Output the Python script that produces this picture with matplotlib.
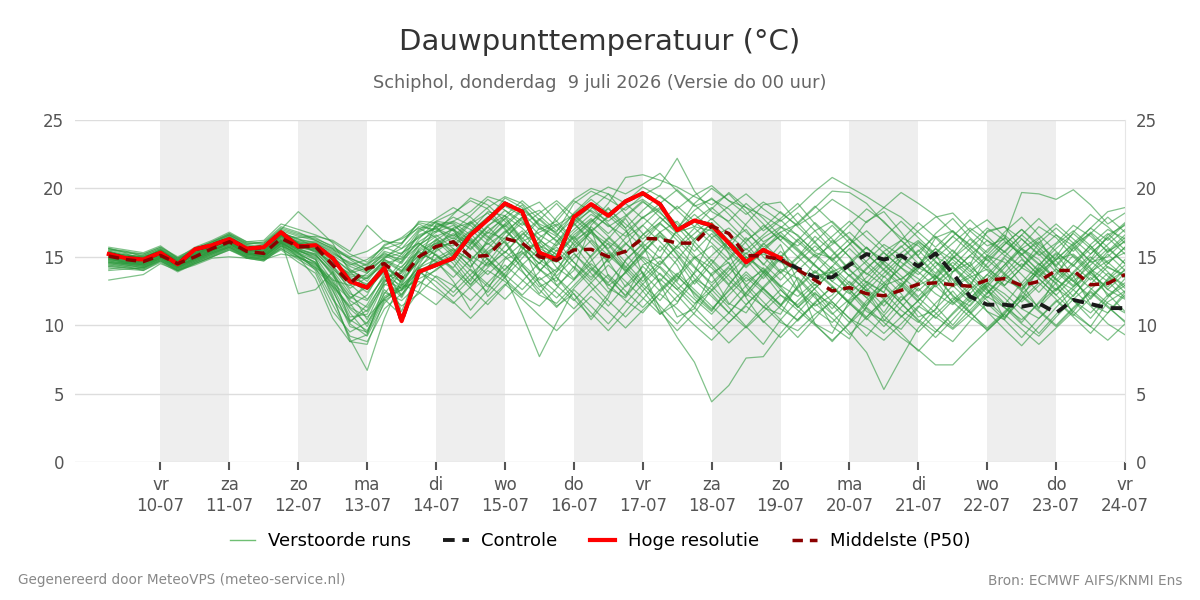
import numpy as np
import pandas as pd
import matplotlib
matplotlib.use('Agg')
import matplotlib.pyplot as plt
from matplotlib.lines import Line2D
from datetime import datetime, timedelta

# 6-hourly steps, 9 juli 06 uur t/m 24 juli 00 uur
times = pd.date_range('2026-07-09 06:00', periods=60, freq='6h')

day_ticks = pd.date_range('2026-07-10', '2026-07-24', freq='D')
day_names = ['vr', 'za', 'zo', 'ma', 'di', 'wo', 'do', 'vr', 'za', 'zo', 'ma', 'di', 'wo', 'do', 'vr']
shaded_days = ['2026-07-10', '2026-07-12', '2026-07-14', '2026-07-16', '2026-07-18', '2026-07-20', '2026-07-22']

hres = [15.2, 14.9, 14.8, 15.3, 14.45, 15.55, 15.85, 16.3, 15.6, 15.7,
        16.8, 15.75, 15.85, 14.9, 13.2, 12.75, 14.2, 10.3, 13.9, 14.4,
        14.9, 16.6, 17.7, 18.9, 18.3, 15.3, 14.8, 17.9, 18.85, 18.0,
        19.05, 19.65, 18.85, 16.95, 17.65, 17.3, 16.0, 14.6, 15.5, 14.9]

p50 = [15.05, 14.8, 14.65, 15.1, 14.5, 15.0, 15.6, 16.1, 15.4, 15.25,
       16.35, 15.75, 15.75, 14.4, 13.05, 14.15, 14.5, 13.45, 15.0, 15.75,
       16.1, 15.0, 15.1, 16.35, 16.0, 15.0, 14.75, 15.5, 15.55, 15.0,
       15.4, 16.35, 16.3, 16.0, 16.0, 17.25, 16.7, 15.1, 15.05, 14.8,
       14.05, 13.3, 12.5, 12.75, 12.3, 12.15, 12.55, 13.0, 13.1, 12.95,
       12.85, 13.3, 13.4, 12.9, 13.2, 14.0, 14.0, 12.95, 13.05, 13.7]

controle = [15.2, 14.9, 14.8, 15.3, 14.45, 15.55, 15.85, 16.3, 15.6, 15.7,
            16.8, 15.75, 15.85, 14.9, 13.2, 12.75, 14.2, 10.3, 13.9, 14.4,
            14.9, 16.6, 17.7, 18.9, 18.3, 15.3, 14.8, 17.9, 18.85, 18.0,
            19.05, 19.65, 18.85, 16.95, 17.65, 17.3, 16.0, 14.6, 15.5, 14.8,
            14.15, 13.5, 13.5, 14.4, 15.2, 14.8, 15.1, 14.3, 15.25, 13.8,
            12.1, 11.5, 11.5, 11.35, 11.6, 10.9, 11.85, 11.55, 11.25, 11.25]

members = [
    [15.3,15.0,14.9,15.4,14.6,15.6,15.9,16.4,15.7,15.8, 16.9,16.0,15.9,14.8,13.5,13.0,14.3,11.0,14.2,14.8, 15.3,16.8,17.9,18.7,18.0,15.6,15.0,17.5,18.4,17.6, 18.6,19.2,18.3,16.8,17.2,16.9,15.6,14.9,15.2,14.6, 14.0,13.6,13.9,14.5,13.8,12.9,13.4,14.2,13.6,12.8, 13.5,14.1,13.3,12.7,13.9,14.8,15.2,14.1,13.2,14.0],
    [14.6,14.4,14.3,14.9,14.2,14.8,15.3,15.9,15.2,15.0, 16.0,15.3,14.0,11.5,9.2,8.8,11.2,12.3,13.6,14.9, 15.6,14.2,16.3,17.4,16.2,14.1,13.2,15.8,16.9,15.5, 14.2,15.7,16.8,15.1,13.4,12.6,14.0,15.3,13.8,12.2, 11.5,12.7,13.9,12.4,11.0,10.3,11.8,12.9,13.6,12.1, 11.4,12.8,14.2,15.6,14.8,13.3,12.6,13.9,14.7,15.3],
    [15.6,15.3,15.1,15.6,14.8,15.4,16.0,16.6,15.9,16.1, 17.2,16.8,16.2,15.6,14.1,13.2,14.8,14.0,15.5,16.2, 17.1,17.5,16.4,17.8,18.8,17.2,16.5,18.2,19.4,20.1, 19.6,20.3,21.1,19.8,18.7,19.2,18.5,17.3,16.1,16.8, 17.4,18.6,19.8,19.7,18.9,17.5,16.4,15.8,14.6,13.9, 15.1,16.2,15.4,14.2,13.5,14.8,15.9,16.7,15.3,16.4],
    [14.1,14.3,14.0,14.7,14.0,14.6,15.1,15.6,15.0,14.8, 15.8,15.2,14.6,12.8,10.4,9.6,12.1,12.8,13.2,12.5, 11.6,12.8,14.0,13.2,12.1,11.4,12.7,14.3,13.1,11.8, 10.6,11.9,13.4,12.2,10.8,9.7,10.9,12.3,11.4,10.2, 9.6,10.8,11.7,10.5,9.8,8.9,10.1,11.4,10.6,9.7, 10.8,12.1,11.3,10.4,11.6,12.7,11.8,10.9,12.2,13.1],
    [15.0,14.7,14.5,15.2,14.4,15.3,15.7,16.2,15.5,15.4, 16.5,15.9,15.4,14.6,13.4,12.6,13.9,12.1,14.8,15.4, 16.2,15.1,14.3,15.8,16.9,15.2,13.6,14.9,16.2,14.7, 12.8,13.9,11.2,9.1,7.3,4.4,5.6,7.6,7.7,9.4, 10.9,12.3,11.5,10.2,11.8,12.9,11.6,10.4,9.5,10.8, 12.0,13.1,12.3,11.2,10.5,11.7,12.8,13.9,12.6,11.9],
    [15.4,15.1,15.0,15.5,14.7,15.2,15.8,16.3,15.6,15.9, 16.7,16.3,15.7,15.1,14.3,13.8,15.0,15.6,16.4,17.2, 17.5,16.6,17.7,19.3,18.6,17.4,16.8,18.9,19.8,19.2, 18.4,19.5,20.2,22.2,19.8,18.3,17.6,18.9,17.8,16.5, 15.8,16.9,17.6,16.4,15.2,14.1,15.3,16.2,15.0,14.3, 15.6,16.8,17.2,16.3,15.1,16.0,17.3,16.5,15.4,16.1],
    [14.8,14.6,14.4,15.0,14.3,14.9,15.5,15.9,15.3,15.1, 16.2,15.5,14.9,12.0,9.0,6.7,10.5,13.4,14.6,15.9, 16.6,15.8,14.4,15.3,16.7,15.9,14.2,13.3,15.1,16.4, 15.2,13.8,12.5,13.7,15.0,14.2,12.9,11.5,12.8,14.1, 13.4,12.0,10.8,11.9,13.2,12.4,11.1,10.2,11.6,12.9, 13.7,12.5,11.3,10.1,9.2,10.6,11.9,13.0,14.3,13.5],
    [15.2,14.9,14.7,15.3,14.5,15.1,15.6,16.0,15.4,15.3, 16.4,15.8,15.6,14.2,12.7,13.5,14.4,13.1,15.0,15.8, 16.4,15.6,16.9,17.8,16.4,15.1,14.6,16.0,17.2,16.1, 15.3,16.6,17.5,16.2,14.9,15.8,14.5,13.2,14.0,12.6, 11.3,12.4,10.9,9.5,8.0,5.3,7.6,9.8,11.2,12.5, 11.0,9.6,10.8,12.3,13.4,12.2,11.0,12.6,13.8,12.9],
    [14.9,14.7,14.6,15.1,14.4,15.1,15.5,16.0,15.2,15.1, 16.2,15.6,15.8,15.0,13.9,14.5,15.2,14.8,16.1,16.9, 17.6,17.0,15.9,16.8,17.9,16.6,15.8,17.0,18.1,17.3, 16.5,17.9,18.6,17.4,16.3,17.1,16.0,15.2,16.4,17.2, 16.1,15.0,15.9,16.8,15.6,14.8,15.7,16.9,17.9,18.2, 16.9,15.8,16.3,19.7,19.6,19.2,19.9,18.8,17.4,18.2],
    [14.4,14.2,14.1,14.8,14.1,14.7,15.2,15.8,15.1,14.9, 15.9,15.1,14.3,13.0,11.2,10.1,12.6,11.4,12.3,13.6, 12.9,11.8,13.1,14.4,13.3,12.2,11.6,12.9,14.2,13.0, 11.8,10.9,12.4,13.6,12.3,11.1,12.6,13.9,12.7,11.5, 12.8,14.0,12.9,11.7,10.6,11.9,13.1,12.0,10.9,9.8, 11.1,12.4,13.6,12.5,11.3,12.6,13.8,12.7,11.6,10.9],
    [15.5,15.2,14.9,15.5,14.7,15.4,15.9,16.5,15.8,15.6, 16.6,16.1,16.0,15.3,14.5,13.9,15.3,14.6,16.8,17.5, 17.0,15.9,17.2,18.4,17.6,16.2,15.4,16.8,17.8,16.7, 17.9,19.0,18.2,17.1,18.4,19.3,18.1,16.8,15.7,16.5, 15.4,14.3,13.5,14.6,15.7,14.4,13.3,14.5,15.6,14.8, 13.7,14.9,16.1,15.2,14.0,13.1,14.4,15.6,16.7,15.5],
    [14.7,14.5,14.4,14.9,14.3,14.9,15.4,15.9,15.3,15.2, 16.1,15.6,15.2,13.6,11.8,11.0,13.0,12.5,14.0,14.6, 15.5,14.8,13.7,14.9,16.0,14.8,13.9,15.2,14.1,12.9, 13.8,15.0,14.2,12.8,11.6,12.5,13.7,15.0,14.1,12.9, 12.1,13.2,14.3,13.1,12.0,13.1,14.2,13.4,12.3,11.5, 12.6,13.7,12.8,11.7,12.9,14.1,13.2,12.1,13.3,14.4],
    [15.1,14.9,14.8,15.3,14.6,15.2,15.7,16.2,15.5,15.5, 16.6,15.9,15.6,14.7,13.7,13.6,14.7,13.9,15.8,17.3, 17.6,18.3,19.4,19.0,18.2,17.0,17.6,19.1,18.3,17.2, 18.0,19.1,17.9,16.8,17.7,18.6,17.5,16.2,17.1,18.3, 17.2,16.0,14.8,15.9,16.9,15.7,14.6,13.7,14.9,16.0, 17.1,16.2,15.1,14.3,15.5,16.6,15.8,14.7,15.9,17.0],
    [14.9,14.6,14.5,15.0,14.4,14.9,15.4,16.0,15.3,15.2, 16.3,15.7,15.4,14.0,12.3,11.8,13.6,12.9,14.2,13.5, 12.4,13.7,14.9,13.6,10.8,7.7,10.2,12.6,11.4,10.1, 11.6,13.0,14.3,13.1,11.9,10.8,12.2,13.5,12.4,11.2, 10.4,11.7,12.8,11.6,10.5,9.4,10.6,11.8,12.9,11.7, 10.6,9.7,10.9,12.1,11.0,9.9,11.2,12.4,11.3,10.3],
    [15.3,15.0,14.8,15.3,14.6,15.3,15.8,16.2,15.6,15.5, 16.5,16.0,15.8,14.9,13.3,12.4,14.1,13.6,15.4,16.0, 16.7,16.0,17.3,18.0,17.1,15.8,15.2,16.6,17.6,18.5, 17.4,16.3,17.5,18.7,17.6,16.4,15.3,14.2,15.4,16.6, 15.5,14.4,13.2,12.3,13.5,14.7,13.6,12.5,13.7,14.9, 15.9,14.8,13.7,12.9,14.1,15.3,14.4,13.3,14.5,15.7],
    [14.5,14.3,14.2,14.9,14.2,14.7,15.3,15.8,15.2,15.0, 15.9,15.4,15.1,13.9,11.6,9.9,12.3,13.9,15.1,16.3, 15.4,14.3,15.6,16.9,15.7,14.5,15.9,17.4,16.3,15.1, 14.0,15.3,16.5,15.4,14.2,13.1,14.3,15.6,14.5,13.3, 14.6,15.8,14.7,13.6,12.5,13.8,15.0,13.9,12.8,13.9, 15.1,14.0,12.9,14.2,15.4,14.3,13.2,14.4,15.6,14.5],
    [15.2,15.0,14.9,15.4,14.7,15.4,15.8,16.4,15.7,15.6, 16.7,16.1,15.9,15.2,14.6,14.1,15.4,15.0,16.5,17.1, 17.9,17.3,16.2,17.4,18.5,17.3,16.1,17.3,18.5,19.6, 18.9,17.8,18.9,19.9,18.8,17.7,18.7,19.6,18.5,17.6, 18.6,19.8,20.8,20.1,19.4,18.6,17.9,16.8,15.7,16.9, 15.8,14.7,15.9,17.0,15.9,14.8,16.0,17.1,16.2,17.4],
    [14.8,14.6,14.5,15.0,14.3,14.8,15.3,15.8,15.2,15.0, 16.0,15.5,15.2,13.7,12.0,12.8,14.0,12.2,13.8,14.5, 15.2,14.0,12.8,14.1,15.3,14.1,12.9,11.8,13.1,14.4, 13.2,12.0,10.8,12.1,13.3,12.1,10.9,9.8,11.0,12.2, 11.1,10.0,8.9,10.1,11.3,10.2,9.1,8.2,7.1,7.1, 8.4,9.6,10.8,9.7,8.6,9.8,11.0,9.9,8.9,10.1],
    [15.4,15.1,14.9,15.5,14.8,15.5,16.0,16.6,15.9,15.7, 16.8,16.2,16.1,15.5,14.9,14.3,15.6,16.0,17.2,17.0, 16.3,17.5,18.6,19.4,18.9,17.7,16.6,17.8,16.7,15.6, 16.8,17.9,16.8,15.6,16.7,17.8,16.6,15.5,16.6,17.7, 16.5,15.4,16.5,17.6,16.4,15.3,14.2,15.4,16.5,15.4, 14.3,15.5,16.6,15.5,14.4,15.6,16.7,15.6,14.5,15.7],
    [14.2,14.1,14.0,14.6,13.9,14.5,15.0,15.5,14.9,14.7, 15.6,14.9,14.5,12.5,10.1,9.2,11.6,12.9,14.0,12.8, 11.7,10.5,11.8,13.0,11.9,10.7,9.6,10.9,12.1,11.0, 9.8,11.1,12.3,11.2,10.0,8.9,10.2,11.4,10.3,9.1, 10.4,11.6,10.5,9.3,10.6,11.8,10.7,9.5,10.8,12.0, 10.9,9.8,11.0,12.2,11.1,10.0,11.3,12.5,11.4,10.2],
    [15.1,14.8,14.7,15.2,14.5,15.1,15.7,16.1,15.4,15.4, 16.4,15.8,15.5,14.3,13.1,12.9,14.5,13.3,15.6,16.5, 17.0,16.2,15.1,16.4,17.5,16.3,15.1,16.4,17.7,16.5, 15.3,16.6,17.9,16.7,15.4,16.7,15.5,14.3,15.5,16.8, 15.6,14.4,13.2,14.4,15.7,14.5,13.3,12.1,13.4,14.6, 13.5,12.3,13.6,14.8,13.7,12.5,13.8,15.0,13.9,12.7],
    [15.6,15.4,15.2,15.7,14.9,15.5,16.1,16.7,16.0,16.0, 17.0,16.6,16.3,15.8,14.8,14.0,14.9,15.9,17.6,17.5, 16.9,18.0,19.2,18.4,17.3,18.2,19.1,18.0,16.9,17.9, 19.0,20.1,19.4,18.5,19.5,20.2,19.1,18.1,19.0,18.2, 17.3,18.1,19.2,18.4,17.5,18.6,19.7,18.9,18.0,16.8, 15.9,17.1,16.2,15.1,16.3,17.4,16.3,15.2,16.4,17.5],
    [14.6,14.4,14.2,14.8,14.1,14.7,15.2,15.7,15.0,14.9, 15.8,15.3,14.8,12.2,8.8,8.6,11.8,12.6,14.3,15.2, 14.1,13.0,14.2,15.4,14.3,13.1,12.0,13.3,14.5,13.4, 12.2,13.5,14.7,13.6,12.4,11.2,12.5,13.7,12.6,11.4, 12.7,13.9,12.8,11.6,12.9,14.1,13.0,11.8,13.1,14.3, 13.2,12.0,13.3,14.5,13.4,12.2,13.5,14.7,13.6,12.4],
    [15.0,14.8,14.6,15.1,14.5,15.0,15.5,16.0,15.4,15.3, 16.3,15.7,15.5,14.5,13.8,14.2,15.1,14.5,16.3,17.6, 17.4,16.1,14.8,13.5,14.9,16.4,17.3,18.1,17.0,15.4, 13.9,15.2,16.8,17.6,16.1,14.7,13.3,12.1,13.6,15.0, 16.3,15.1,13.8,12.6,11.4,12.9,14.3,15.5,14.2,12.9, 11.7,13.0,14.4,15.8,17.2,16.4,15.0,13.7,12.8,14.1],
    [13.3,13.5,13.7,14.5,14.0,14.4,14.9,15.0,14.9,14.8, 15.2,15.0,14.2,13.3,12.9,13.8,14.9,15.3,16.0,15.1, 14.0,12.7,11.5,12.9,14.4,15.6,16.5,15.3,13.8,12.4, 13.9,15.4,16.6,15.2,13.7,12.3,10.9,12.4,13.8,15.1, 14.0,12.6,11.2,12.7,14.1,15.4,16.2,15.0,13.6,12.2, 10.9,12.3,13.8,15.2,16.1,14.7,13.3,11.9,13.4,14.8],
    [15.7,15.5,15.3,15.8,14.9,15.7,16.2,16.8,16.1,16.2, 17.4,17.0,16.6,16.1,15.2,14.6,15.8,16.4,17.4,16.8, 18.1,19.3,18.8,17.6,16.3,17.7,18.9,17.5,16.0,14.6, 15.9,17.3,18.5,17.2,15.8,14.4,13.0,14.5,15.9,17.1, 18.2,16.9,15.5,14.1,12.7,11.4,12.9,14.3,15.6,14.3, 13.0,14.5,15.9,17.0,15.7,14.4,15.8,17.1,18.3,18.6],
    [14.3,14.2,14.1,14.7,14.0,14.5,15.0,15.6,14.9,14.7, 15.7,15.0,14.4,13.4,10.9,9.4,11.9,13.0,12.4,11.5, 12.8,14.1,13.0,11.9,13.2,14.6,13.5,12.3,10.9,9.6, 11.0,12.5,13.8,12.6,11.3,10.0,8.7,9.9,11.3,12.6, 11.4,10.1,8.8,10.2,11.6,12.8,11.6,10.3,9.1,10.4, 11.8,13.1,12.0,10.7,9.4,10.8,12.2,13.5,12.3,11.0],
    [15.2,14.9,14.8,15.2,14.6,15.2,15.6,16.3,15.5,15.4, 16.6,16.0,15.7,14.8,13.6,13.4,14.6,13.0,14.9,15.6, 16.1,17.4,18.2,17.0,15.7,14.5,16.1,17.6,18.7,17.4, 16.0,14.7,13.2,14.8,16.3,17.5,16.2,14.8,13.4,14.9, 16.2,17.5,16.3,15.0,13.7,14.9,16.2,17.5,16.4,15.1, 13.9,15.1,16.4,15.2,13.9,12.6,13.9,15.2,16.4,15.2],
    [14.7,14.5,14.3,14.9,14.2,14.8,15.3,15.7,15.1,15.0, 16.0,15.4,15.0,13.2,10.6,10.8,13.2,14.3,15.4,14.6, 13.5,14.8,16.0,15.0,13.9,12.6,11.3,12.7,14.0,15.3, 14.1,12.8,11.4,10.1,11.5,12.9,14.2,13.0,11.7,10.4, 9.1,10.5,11.9,13.2,12.0,10.7,9.4,8.1,9.5,10.9, 12.2,11.0,9.7,8.5,9.9,11.3,12.6,11.4,10.1,9.3],
    [15.3,15.1,15.0,15.4,14.7,15.3,15.9,16.4,15.7,15.7, 16.8,16.3,16.0,15.4,14.4,14.8,15.7,15.2,16.6,17.1, 16.5,17.6,16.5,15.3,16.6,17.8,16.7,15.5,16.8,18.0, 16.9,15.7,14.4,15.8,17.1,16.0,14.8,16.1,17.3,16.2, 15.0,13.8,15.1,16.3,15.2,14.0,12.8,14.1,15.3,16.5, 15.4,14.2,15.4,16.6,15.5,14.3,15.6,16.8,15.7,14.5],
    [14.5,14.6,14.4,15.0,14.2,14.9,15.4,16.0,15.2,15.1, 16.1,15.2,14.6,12.6,9.9,9.5,12.4,11.8,13.0,14.1, 14.8,13.2,15.4,16.1,14.0,12.3,13.9,16.2,17.0,13.6, 12.1,14.4,15.0,13.2,16.1,17.5,15.2,12.8,11.3,10.8, 12.9,14.6,16.2,15.0,13.1,12.4,14.9,16.1,15.2,13.0, 14.4,16.9,17.2,15.6,16.4,14.1,12.9,14.8,16.6,17.3],
    [15.1,15.2,14.9,15.5,14.6,15.1,15.5,16.0,15.6,15.4, 16.2,12.3,12.6,13.9,10.2,11.5,13.8,13.2,14.7,17.4, 16.9,15.5,16.8,16.3,17.8,15.5,12.9,14.0,17.3,18.6, 17.1,13.7,10.8,11.6,13.9,16.4,17.1,16.0,14.4,15.9, 13.2,10.1,9.4,11.8,12.6,10.9,12.8,14.5,13.3,11.6, 12.8,15.1,14.6,13.0,11.2,13.6,15.7,14.2,12.1,12.9],
    [14.9,14.9,14.7,15.3,14.6,15.0,15.8,16.4,15.6,15.2, 16.6,16.4,16.5,16.2,15.4,17.3,16.1,16.0,17.5,17.2, 15.9,16.9,18.3,18.0,16.1,16.8,17.4,16.2,15.0,16.3, 17.8,16.0,14.9,17.0,18.9,20.0,19.1,18.6,18.0,17.2, 16.6,15.3,14.9,13.6,14.7,15.9,15.1,14.2,16.4,16.9, 15.6,14.3,12.9,14.2,16.0,17.1,16.0,14.6,15.0,16.2],
    [14.4,14.5,14.3,14.9,14.1,14.6,15.1,15.7,15.1,14.9, 15.6,14.8,14.1,12.8,11.3,10.6,11.9,10.7,12.5,15.5, 17.1,14.6,12.1,13.5,15.9,13.0,11.4,12.3,10.4,12.0, 14.8,15.9,13.0,10.6,11.2,13.8,14.6,12.0,10.2,11.4, 13.5,12.2,9.9,9.0,11.4,13.6,12.3,10.6,11.1,13.9, 14.6,12.7,10.5,11.9,14.2,13.0,10.8,9.9,11.7,12.5],
    [15.5,15.4,15.0,15.5,14.8,15.6,16.1,16.6,16.0,15.9, 17.0,18.3,17.2,16.0,13.9,12.8,14.0,15.2,16.9,17.6, 18.2,19.1,18.5,17.1,15.6,16.0,17.9,19.2,20.0,19.6, 18.1,16.7,15.4,16.9,18.1,17.0,15.6,17.4,18.8,19.0, 17.5,16.1,14.7,15.9,17.6,18.3,16.8,15.0,13.8,15.2, 16.9,17.7,16.5,14.9,13.6,15.0,16.8,18.1,17.2,16.0],
    [14.6,14.5,14.6,15.1,14.3,15.0,15.6,16.1,15.3,15.0, 16.0,15.0,13.4,10.5,8.8,9.3,12.9,14.0,15.3,14.7, 13.2,11.1,12.6,14.8,15.4,14.0,15.1,16.5,14.9,12.7, 12.0,13.6,15.8,14.4,12.1,11.0,12.9,14.6,16.0,14.8, 12.6,11.4,12.2,13.7,12.5,10.4,9.7,11.3,13.0,14.2, 12.9,11.0,10.4,12.5,14.0,15.2,13.6,11.5,10.9,12.4],
    [15.0,14.6,14.7,15.2,14.3,15.2,15.7,16.2,15.4,15.6, 16.7,16.0,15.3,14.1,13.0,11.9,13.5,13.8,15.1,16.0, 15.8,16.7,15.3,14.0,15.5,17.1,16.2,14.6,13.3,14.9, 16.4,17.3,16.1,14.8,13.0,14.5,16.1,17.0,15.4,13.9, 15.0,16.5,15.4,14.0,13.1,14.6,15.8,14.5,13.4,14.9, 16.3,15.1,13.8,12.6,14.3,15.9,16.9,15.8,14.2,13.7],
    [14.8,14.8,14.5,15.1,14.4,14.9,15.5,16.0,15.4,15.1, 16.1,15.5,14.8,12.9,11.4,12.2,14.5,14.9,16.0,15.1, 14.2,15.9,17.2,16.0,14.5,13.3,14.1,15.6,16.8,15.9, 14.3,13.0,11.8,13.4,14.9,13.7,11.6,10.9,12.7,13.9, 12.5,11.1,10.2,11.5,13.0,11.9,10.6,11.8,13.5,15.0, 14.1,12.6,11.5,13.1,14.5,13.4,12.1,13.8,15.2,14.0],
    [15.4,15.0,15.1,15.6,14.9,15.3,15.9,16.5,15.8,15.7, 16.9,16.5,16.2,15.6,14.9,14.4,15.9,16.3,17.1,16.4, 15.2,16.8,17.9,17.2,18.4,19.0,17.6,16.3,17.5,18.9, 20.8,21.0,20.6,20.1,19.4,18.8,19.6,18.3,16.9,17.8, 18.9,17.4,16.0,17.3,18.5,17.6,16.2,15.1,16.7,17.8, 16.4,15.3,16.8,17.9,16.6,15.4,14.3,15.9,17.0,16.3],
    [14.3,14.4,14.2,14.8,14.0,14.6,15.2,15.7,15.0,14.8, 15.8,15.0,14.2,11.9,10.3,11.1,13.4,12.0,14.1,15.7, 14.5,12.9,14.6,16.2,14.4,12.8,13.5,11.9,10.6,12.3, 13.9,12.5,11.0,9.6,10.9,12.6,11.3,9.9,8.6,10.4, 11.8,13.0,11.7,10.5,9.2,10.7,12.1,11.0,9.7,8.8, 10.3,11.6,10.4,9.1,10.5,11.8,10.6,9.4,10.9,12.2],
    [15.2,14.8,14.6,15.3,14.5,15.1,15.8,16.3,15.5,15.3, 16.5,15.9,15.6,14.4,12.5,10.4,13.1,14.7,15.8,16.8, 17.3,16.4,15.2,16.7,17.9,18.4,17.2,15.9,14.3,13.1, 14.7,16.0,17.4,16.5,15.1,13.6,14.9,16.4,15.0,13.8, 14.9,16.1,17.3,16.0,14.6,13.5,14.8,16.0,14.7,13.4, 12.3,13.7,15.0,16.3,15.2,13.9,12.8,14.0,15.4,16.6],
    [14.7,14.7,14.4,15.0,14.2,14.8,15.4,16.0,15.3,15.0, 16.1,15.3,14.5,13.1,11.9,13.0,14.2,12.6,13.4,14.0, 15.1,16.3,14.8,13.7,12.6,13.9,15.5,14.2,12.8,11.4, 12.9,14.3,13.1,11.7,13.2,14.8,13.6,12.3,13.9,15.4, 14.2,12.9,14.3,15.6,14.4,13.1,11.8,13.2,14.6,13.3, 11.9,13.4,14.9,13.7,12.4,13.8,15.1,13.9,12.6,13.8],
    [15.1,15.0,14.8,15.4,14.6,15.2,15.7,16.2,15.5,15.5, 16.5,15.8,15.7,14.9,14.0,13.4,14.8,14.2,15.9,16.6, 15.6,14.7,16.1,17.3,16.0,14.9,15.7,14.6,13.5,14.8, 16.0,14.9,13.7,12.6,13.8,15.1,16.2,15.0,13.9,12.8, 14.0,15.2,14.1,12.9,14.2,15.3,14.2,13.0,14.3,15.5, 14.3,13.2,14.4,15.6,14.5,13.3,14.6,15.8,14.6,13.5],
    [14.0,14.1,14.2,14.7,14.0,14.5,15.0,15.5,15.0,14.8, 15.5,14.6,13.8,11.0,9.5,10.2,12.0,12.6,14.4,16.2, 15.0,13.6,12.4,13.8,15.2,16.1,14.8,13.4,14.7,16.0, 14.6,13.2,14.5,15.8,14.3,12.9,11.5,12.9,14.2,12.8, 11.3,12.7,14.0,12.6,11.2,9.9,11.3,12.7,11.4,10.0, 11.5,12.9,11.6,10.2,11.7,13.1,11.8,10.5,12.0,13.4],
    [15.6,15.3,15.2,15.7,15.0,15.6,16.1,16.7,16.1,16.0, 17.1,16.7,16.4,15.7,15.0,15.4,16.2,15.6,17.0,17.8, 18.6,17.9,16.7,18.0,19.1,18.0,16.9,18.1,19.2,18.2, 17.1,18.4,19.5,18.4,17.2,18.5,19.7,18.6,17.4,16.2, 17.5,18.7,17.5,16.3,15.1,16.4,17.6,16.4,15.2,16.5, 17.7,16.5,15.3,16.6,17.8,16.6,15.4,16.7,17.9,16.8],
    [14.9,14.5,14.4,15.0,14.3,14.9,15.5,16.0,15.3,15.2, 16.2,15.6,15.1,13.8,12.1,11.3,13.3,12.7,13.9,13.2, 12.1,13.4,14.6,13.4,12.2,13.5,12.4,11.2,12.5,13.7, 12.5,11.3,12.6,13.8,12.6,11.4,10.2,11.5,12.7,11.5, 10.3,11.6,12.8,11.6,10.4,11.7,12.9,11.7,10.5,11.8, 13.0,11.8,10.6,11.9,13.1,11.9,10.7,12.0,13.2,12.0],
]

fig = plt.figure(figsize=(12, 6), dpi=100)
ax = fig.add_axes([0.0625, 0.23, 0.875, 0.57])

x_left = datetime(2026, 7, 10) - timedelta(days=1.241)
x_right = datetime(2026, 7, 24)

for d in shaded_days:
    start = pd.Timestamp(d)
    ax.axvspan(start, start + pd.Timedelta(days=1), color='#eeeeee', lw=0, zorder=0)

for m in members:
    ax.plot(times, m, color='#2e9a3e', lw=0.9, alpha=0.6, zorder=2)

ax.plot(times, controle, color='#1a1a1a', lw=2.8, ls=(0, (3, 2)), zorder=3)
ax.plot(times[:len(hres)], hres, color='#ff0000', lw=3, zorder=4)
ax.plot(times, p50, color='#8b0000', lw=2.5, ls=(0, (3, 2)), zorder=5)

ax.set_xlim(x_left, x_right)
ax.set_ylim(0, 25)
ax.set_yticks([0, 5, 10, 15, 20, 25])
ax.yaxis.grid(True, color='#dddddd', lw=1)
ax.set_axisbelow(True)

ax.set_xticks(day_ticks)
ax.set_xticklabels([f'{n}\n{d.strftime("%d-%m")}' for n, d in zip(day_names, day_ticks)])

for s in ['top', 'left', 'bottom']:
    ax.spines[s].set_visible(False)
ax.spines['right'].set_color('#e6e6e6')
ax.spines['right'].set_linewidth(0.8)

ax.tick_params(axis='x', length=6, width=1.5, color='#555555', labelcolor='#555555', labelsize=12, pad=4)
ax.tick_params(axis='y', length=0, labelcolor='#555555', labelsize=12, pad=8,
               labelleft=True, labelright=True)

fig.text(0.5, 0.93, 'Dauwpunttemperatuur (°C)', ha='center', va='center', fontsize=21, color='#333333')
fig.text(0.5, 0.862, 'Schiphol, donderdag  9 juli 2026 (Versie do 00 uur)', ha='center', va='center',
         fontsize=12.75, color='#666666')

handles = [
    Line2D([], [], color='#6fbf73', lw=1),
    Line2D([], [], color='#1a1a1a', lw=2.8, ls=(0, (3, 2))),
    Line2D([], [], color='#ff0000', lw=3),
    Line2D([], [], color='#8b0000', lw=2.5, ls=(0, (3, 2))),
]
labels = ['Verstoorde runs', 'Controle', 'Hoge resolutie', 'Middelste (P50)']
fig.legend(handles, labels, loc='center', bbox_to_anchor=(0.5, 0.098), ncol=4, frameon=False,
           fontsize=13, handlelength=1.4, columnspacing=1.8, handletextpad=0.7)

fig.text(0.015, 0.033, 'Gegenereerd door MeteoVPS (meteo-service.nl)', ha='left', va='center',
         fontsize=9.8, color='#888888')
fig.text(0.985, 0.033, 'Bron: ECMWF AIFS/KNMI Ens', ha='right', va='center',
         fontsize=9.8, color='#888888')

fig.savefig('out.png', dpi=100)
